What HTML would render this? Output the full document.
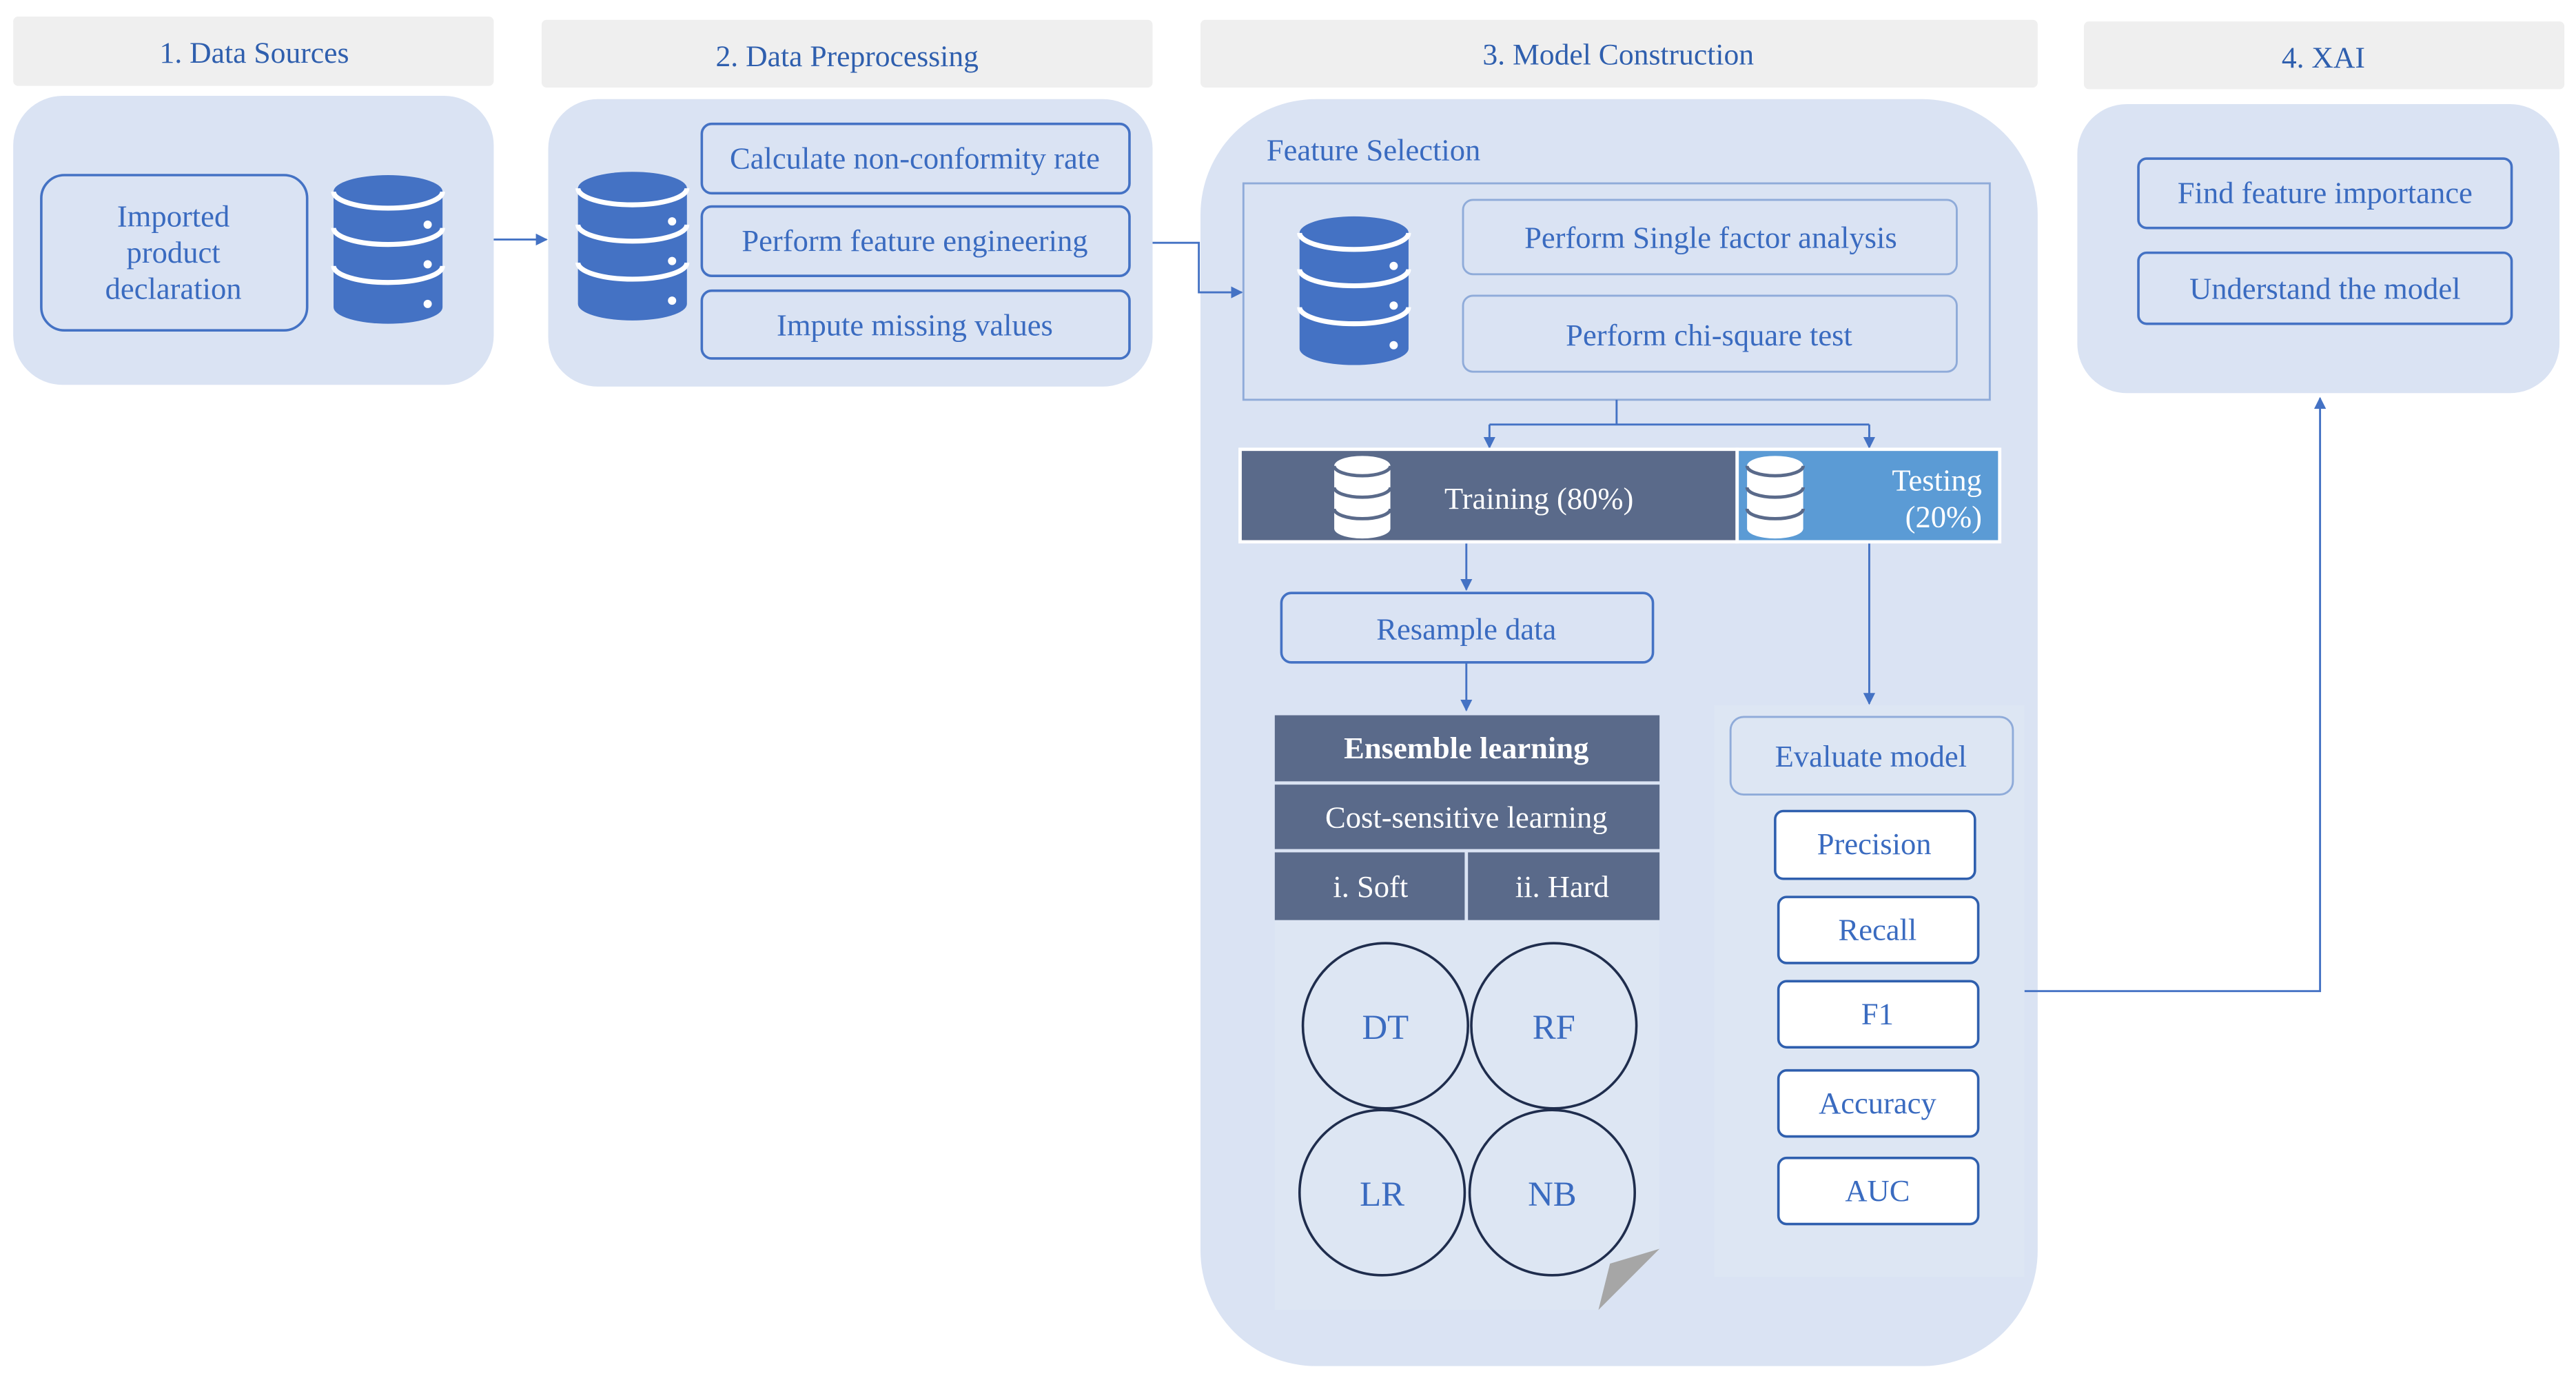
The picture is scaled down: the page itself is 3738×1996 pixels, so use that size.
<!DOCTYPE html>
<html><head><meta charset="utf-8"><style>
html,body{margin:0;padding:0;background:#fff;}
svg{display:block}
text{font-family:"Liberation Serif",serif;}
</style></head><body>
<svg width="3738" height="1996" viewBox="0 0 1560 833" preserveAspectRatio="none" xmlns="http://www.w3.org/2000/svg">
<defs>
<marker id="ar" viewBox="0 0 10 10" refX="9" refY="5" markerWidth="6" markerHeight="6" orient="auto"><path d="M0,0 L10,5 L0,10 z" fill="#4472c4"/></marker>
<g id="db">
<path d="M0,10 A33,10 0 0 1 66,10 L66,80 A33,10 0 0 1 0,80 Z" fill="inherit"/>
<path d="M0,10 A33,10 0 0 0 66,10" fill="none" stroke="#fff" stroke-width="3"/>
<path d="M0,32 A33,10 0 0 0 66,32" fill="none" stroke="#fff" stroke-width="3"/>
<path d="M0,55 A33,10 0 0 0 66,55" fill="none" stroke="#fff" stroke-width="3"/>
<circle cx="57" cy="30" r="2.5" fill="#fff"/><circle cx="57" cy="54" r="2.5" fill="#fff"/><circle cx="57" cy="78" r="2.5" fill="#fff"/>
</g>
<g id="dbw">
<path d="M0,6 A17,6 0 0 1 34,6 L34,44 A17,6 0 0 1 0,44 Z" fill="#fff"/>
<path d="M0,6 A17,6 0 0 0 34,6" fill="none" stroke="#5a6a8a" stroke-width="2"/>
<path d="M0,19 A17,6 0 0 0 34,19" fill="none" stroke="#5a6a8a" stroke-width="2"/>
<path d="M0,32 A17,6 0 0 0 34,32" fill="none" stroke="#5a6a8a" stroke-width="2"/>
</g>
</defs>
<g font-size="18.2" fill="#2f5fae" text-anchor="middle">
<rect x="8" y="10" width="291" height="42" rx="3" fill="#efefef"/><text x="154" y="38">1. Data Sources</text>
<rect x="328" y="12" width="370" height="41" rx="3" fill="#efefef"/><text x="513" y="40">2. Data Preprocessing</text>
<rect x="727" y="12" width="507" height="41" rx="3" fill="#efefef"/><text x="980" y="39">3. Model Construction</text>
<rect x="1262" y="13" width="291" height="41" rx="3" fill="#efefef"/><text x="1407" y="41">4. XAI</text>
</g>
<rect x="8" y="58" width="291" height="175" rx="30" fill="#dae3f3"/>
<rect x="332" y="60" width="366" height="174" rx="30" fill="#dae3f3"/>
<rect x="727" y="60" width="507" height="767" rx="70" fill="#dae3f3"/>
<rect x="1258" y="63" width="292" height="175" rx="30" fill="#dae3f3"/>
<g font-size="18.6" fill="#3a6bc0" text-anchor="middle">
<rect x="25" y="106" width="161" height="94" rx="14" fill="none" stroke="#4472c4" stroke-width="1.5"/>
<text x="105" y="137">Imported</text><text x="105" y="159">product</text><text x="105" y="181">declaration</text>
<g fill="#4472c4"><use href="#db" x="202" y="106"/><use href="#db" x="350" y="104"/><use href="#db" x="787" y="131"/></g>
<rect x="425" y="75" width="259" height="42" rx="6" fill="none" stroke="#4472c4" stroke-width="1.5"/><text x="554" y="102">Calculate non-conformity rate</text>
<rect x="425" y="125" width="259" height="42" rx="6" fill="none" stroke="#4472c4" stroke-width="1.5"/><text x="554" y="152">Perform feature engineering</text>
<rect x="425" y="176" width="259" height="41" rx="6" fill="none" stroke="#4472c4" stroke-width="1.5"/><text x="554" y="203">Impute missing values</text>
<text x="767" y="97" text-anchor="start">Feature Selection</text>
<rect x="753" y="111" width="452" height="131" fill="none" stroke="#8fabd9" stroke-width="1.2"/>
<rect x="886" y="121" width="299" height="45" rx="6" fill="none" stroke="#8fabd9" stroke-width="1.2"/><text x="1036" y="150">Perform Single factor analysis</text>
<rect x="886" y="179" width="299" height="46" rx="6" fill="none" stroke="#8fabd9" stroke-width="1.2"/><text x="1035" y="209">Perform chi-square test</text>
<g stroke="#4472c4" stroke-width="1.2" fill="none">
<path d="M299,145 H331" marker-end="url(#ar)"/>
<path d="M698,147 H726 V177 H752" marker-end="url(#ar)"/>
<path d="M979,242 V257 M902,257 H1132"/>
<path d="M902,257 V271" marker-end="url(#ar)"/><path d="M1132,257 V271" marker-end="url(#ar)"/>
<path d="M888,329 V357" marker-end="url(#ar)"/>
<path d="M888,401 V430" marker-end="url(#ar)"/>
<path d="M1132,329 V426" marker-end="url(#ar)"/>
<path d="M1226,600 H1405 V241" marker-end="url(#ar)"/>
</g>
<rect x="751" y="272" width="301" height="56" fill="#5a6a8a" stroke="#fff" stroke-width="2"/>
<rect x="1052" y="272" width="159" height="56" fill="#5b9bd5" stroke="#fff" stroke-width="2"/>
<use href="#dbw" x="808" y="276"/><use href="#dbw" x="1058" y="276"/>
<text x="932" y="308" fill="#fff">Training (80%)</text>
<text x="1173" y="297" fill="#fff">Testing</text><text x="1177" y="319" fill="#fff">(20%)</text>
<rect x="776" y="359" width="225" height="42" rx="6" fill="none" stroke="#4472c4" stroke-width="1.5"/><text x="888" y="387">Resample data</text>
<path d="M772,557 H1005 V756 L968,793 H772 Z" fill="#dde6f3"/>
<path d="M968,793 L1005,756 L975,765 Z" fill="#a6a6a6"/>
<rect x="772" y="433" width="233" height="40" fill="#5a6a8a"/>
<rect x="772" y="475" width="233" height="39" fill="#5a6a8a"/>
<rect x="772" y="516" width="115" height="41" fill="#5a6a8a"/>
<rect x="889" y="516" width="116" height="41" fill="#5a6a8a"/>
<text x="888" y="459" fill="#fff" font-weight="bold">Ensemble learning</text>
<text x="888" y="501" fill="#fff">Cost-sensitive learning</text>
<text x="830" y="543" fill="#fff">i. Soft</text><text x="946" y="543" fill="#fff">ii. Hard</text>
<g fill="none" stroke="#1f2d4d" stroke-width="1.5">
<circle cx="839" cy="621" r="50"/><circle cx="941" cy="621" r="50"/><circle cx="837" cy="722" r="50"/><circle cx="940" cy="722" r="50"/>
</g>
<g font-size="21.2"><text x="839" y="629">DT</text><text x="941" y="629">RF</text><text x="837" y="730">LR</text><text x="940" y="730">NB</text></g>
<rect x="1038" y="427" width="188" height="346" fill="#dde6f3"/>
<rect x="1048" y="434" width="171" height="47" rx="8" fill="none" stroke="#8fabd9" stroke-width="1.2"/><text x="1133" y="464">Evaluate model</text>
<g fill="#fff" stroke="#2f5fae" stroke-width="1.5">
<rect x="1075" y="491" width="121" height="41" rx="5"/><rect x="1077" y="543" width="121" height="40" rx="5"/>
<rect x="1077" y="594" width="121" height="40" rx="5"/><rect x="1077" y="648" width="121" height="40" rx="5"/>
<rect x="1077" y="701" width="121" height="40" rx="5"/>
</g>
<text x="1135" y="517">Precision</text><text x="1137" y="569">Recall</text><text x="1137" y="620">F1</text>
<text x="1137" y="674">Accuracy</text><text x="1137" y="727">AUC</text>
<rect x="1295" y="96" width="226" height="42" rx="5" fill="none" stroke="#4472c4" stroke-width="1.5"/><text x="1408" y="123">Find feature importance</text>
<rect x="1295" y="153" width="226" height="43" rx="5" fill="none" stroke="#4472c4" stroke-width="1.5"/><text x="1408" y="181">Understand the model</text>
</g>
</svg>
</body></html>
